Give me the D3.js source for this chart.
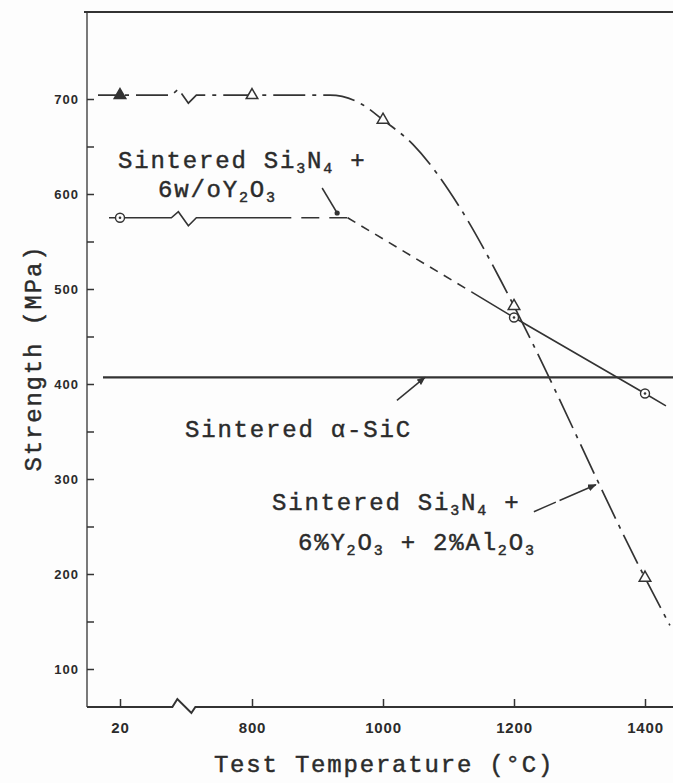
<!DOCTYPE html>
<html>
<head>
<meta charset="utf-8">
<script src="https://cdn.jsdelivr.net/npm/d3@7"></script>
<style>
  html, body { margin: 0; padding: 0; background: #fdfdfd; }
  svg { display: block; }
</style>
</head>
<body>
<svg id="chart" width="673" height="783"></svg>
<script>
// ---- data -------------------------------------------------------------
// test temperatures (°C) shown on the x axis
const temperatures = [20, 800, 1000, 1200, 1400];
// strength ticks (MPa)
const strengthTicks = [100, 200, 300, 400, 500, 600, 700];
const minorStrengthTicks = [150, 250, 350, 450, 550, 650];

// Sintered Si3N4 + 6% Y2O3 + 2% Al2O3 : measured points
const yalTemps = [20, 800, 1000, 1200, 1400];
const yalStrength = [704, 704, 678, 482, 196];
// its fitted curve beyond the plateau
const yalCurveTemps = [800, 919, 969, 1000, 1046, 1118, 1179, 1200, 1400, 1438];
const yalCurveStrength = [704, 704, 694, 678, 652, 585, 510, 482, 196, 146];

// Sintered Si3N4 + 6 w/o Y2O3 : measured points
const ytTemps = [20, 1200, 1400];
const ytStrength = [575, 470, 390];
// its trend line: plateau, extrapolated drop, measured slope
const ytLineTemps = [20, 860, 946, 1135, 1200, 1400, 1432];
const ytLineStrength = [575, 575, 575, 497, 470, 390, 377];

// Sintered alpha-SiC : constant strength
const sicStrength = 407;

// ---- layout -----------------------------------------------------------
const W = 673, H = 783;
const plotLeft = 87, plotTop = 12, plotBottom = 707, plotRight = 673;
const ink = "#333333";
const textInk = "#2b2b2b";
const mono = "'Liberation Mono', 'DejaVu Sans Mono', monospace";
const sans = "'Liberation Sans', Arial, sans-serif";

const svg = d3.select("#chart");
svg.append("rect").attr("width", W).attr("height", H).attr("fill", "#fdfdfd");

// broken temperature axis: 20 °C, then 800–1400 °C
const x = d3.scaleLinear().domain([20, 800, 1400]).range([120, 252, 645]);
const y = d3.scaleLinear().domain([100, 700]).range([669, 99]);
const breakX = x(20) + 0.48 * (x(800) - x(20));

const defs = svg.append("defs");
defs.append("marker")
  .attr("id", "head")
  .attr("viewBox", "0 0 10 8")
  .attr("refX", 9).attr("refY", 4)
  .attr("markerWidth", 9).attr("markerHeight", 7)
  .attr("markerUnits", "userSpaceOnUse")
  .attr("orient", "auto")
  .append("path").attr("d", "M0,0 L10,4 L0,8 Z").attr("fill", ink);

// ---- axes -------------------------------------------------------------
const lin = d3.line();

// top border
svg.append("path")
  .attr("d", lin([[plotLeft - 3, plotTop], [plotRight, plotTop]]))
  .attr("stroke", ink).attr("stroke-width", 2.2).attr("fill", "none");

// left axis line
svg.append("path")
  .attr("d", lin([[plotLeft, plotTop], [plotLeft, plotBottom]]))
  .attr("stroke", ink).attr("stroke-width", 1.3).attr("fill", "none");

// bottom axis line with a break mark
svg.append("path")
  .attr("d", lin([[plotLeft, plotBottom], [breakX - 11, plotBottom], [breakX - 6, plotBottom - 8],
                  [breakX + 8, plotBottom + 6], [breakX + 12, plotBottom], [plotRight, plotBottom]]))
  .attr("stroke", ink).attr("stroke-width", 2).attr("fill", "none")
  .attr("stroke-linejoin", "miter");

const yAxis = svg.append("g")
  .attr("transform", `translate(${plotLeft},0)`)
  .call(d3.axisLeft(y).tickValues(strengthTicks).tickSize(-7).tickPadding(8));
const yMinor = svg.append("g")
  .attr("transform", `translate(${plotLeft},0)`)
  .call(d3.axisLeft(y).tickValues(minorStrengthTicks).tickSize(-7).tickFormat(""));
const xAxis = svg.append("g")
  .attr("transform", `translate(0,${plotBottom})`)
  .call(d3.axisBottom(x).tickValues(temperatures).tickSize(-8).tickPadding(15).tickFormat(d3.format("d")));

[yAxis, yMinor, xAxis].forEach(g => {
  g.select(".domain").remove();
  g.selectAll(".tick line").attr("stroke", ink).attr("stroke-width", 1.5);
});
yAxis.selectAll(".tick text")
  .attr("fill", textInk).attr("font-family", sans).attr("font-weight", "bold")
  .attr("font-size", 13).attr("letter-spacing", 1);
xAxis.selectAll(".tick text")
  .attr("fill", textInk).attr("font-family", sans).attr("font-weight", "bold")
  .attr("font-size", 15).attr("letter-spacing", 0.8);

// ---- series lines -----------------------------------------------------
const zig = (yy) => [[breakX - 12, yy], [breakX - 5, yy - 6], [breakX + 5, yy + 8], [breakX + 13, yy]];

// Si3N4 + Y2O3 + Al2O3 : dash-dot plateau with break, then curved fall-off
{
  const yy = y(yalStrength[0]);
  const flat = [[x(yalTemps[0]) - 22, yy], ...zig(yy)];
  const curvePts = yalCurveTemps.map((t, i) => [x(t), y(yalCurveStrength[i])]);
  const d = lin(flat) + d3.line().curve(d3.curveMonotoneX)(curvePts).replace(/^M/, "L");
  svg.append("path").attr("d", d)
    .attr("fill", "none").attr("stroke", ink).attr("stroke-width", 1.7)
    .attr("stroke-dasharray", "32,7,4,7").attr("stroke-dashoffset", 12);
}

// Si3N4 + Y2O3 : solid plateau, dashed extrapolation, solid measured slope
{
  const pts = ytLineTemps.map((t, i) => [x(t), y(ytLineStrength[i])]);
  const yy = pts[0][1];
  const pieces = [
    { p: [[pts[0][0] - 11, yy], ...zig(yy), pts[1]], dash: null, off: 0 },
    { p: [pts[1], pts[2]], dash: "18,10", off: 18 },
    { p: [pts[2], pts[3]], dash: "9,7", off: 0 },
    { p: pts.slice(3), dash: null, off: 0 }
  ];
  pieces.forEach(pc => {
    svg.append("path").attr("d", lin(pc.p))
      .attr("fill", "none").attr("stroke", ink).attr("stroke-width", 1.6)
      .attr("stroke-dasharray", pc.dash).attr("stroke-dashoffset", pc.off);
  });
}

// alpha-SiC : constant strength
svg.append("path")
  .attr("d", lin([[x(20) - 17, y(sicStrength)], [plotRight, y(sicStrength)]]))
  .attr("fill", "none").attr("stroke", ink).attr("stroke-width", 2.1);

// ---- markers ----------------------------------------------------------
const tri = d3.symbol(d3.symbolTriangle, 58);
svg.append("g").selectAll("path")
  .data(yalTemps.map((t, i) => ({ t, v: yalStrength[i], i })))
  .join("path")
  .attr("d", tri)
  .attr("transform", d => `translate(${x(d.t)},${y(d.v)})`)
  .attr("fill", d => d.i === 0 ? ink : "#fdfdfd")
  .attr("stroke", ink).attr("stroke-width", 1.5);

const circ = svg.append("g").selectAll("g")
  .data(ytTemps.map((t, i) => ({ t, v: ytStrength[i] })))
  .join("g")
  .attr("transform", d => `translate(${x(d.t)},${y(d.v)})`);
circ.append("circle").attr("r", 4.5).attr("fill", "#fdfdfd").attr("stroke", ink).attr("stroke-width", 1.4);
circ.append("circle").attr("r", 1.3).attr("fill", ink);

// ---- annotations ------------------------------------------------------
function typeText(sel) {
  return sel.attr("font-family", mono).attr("font-size", 24)
    .attr("letter-spacing", 1.8).attr("fill", textInk)
    .attr("stroke", textInk).attr("stroke-width", 0.45);
}

function label(x0, y0, parts) {
  const t = typeText(svg.append("text").attr("x", x0).attr("y", y0));
  let shifted = false;
  parts.forEach(p => {
    const sub = typeof p !== "string";
    const s = t.append("tspan").text(sub ? p.sub : p);
    if (sub) s.attr("font-size", 15);
    if (sub && !shifted) { s.attr("dy", 5); shifted = true; }
    else if (!sub && shifted) { s.attr("dy", -5); shifted = false; }
  });
  return t;
}

label(118, 168, ["Sintered Si", { sub: "3" }, "N", { sub: "4" }, " +"]);
label(158, 197, ["6w/oY", { sub: "2" }, "O", { sub: "3" }]);
label(185, 437, ["Sintered \u03b1-SiC"]);
label(272, 510, ["Sintered Si", { sub: "3" }, "N", { sub: "4" }, " +"]);
label(298, 550, ["6%Y", { sub: "2" }, "O", { sub: "3" }, " + 2%Al", { sub: "2" }, "O", { sub: "3" }]);

// pointer to the Y2O3 plateau
{
  const tip = [x(930), y(580)];
  svg.append("path").attr("d", lin([[tip[0] - 15, tip[1] - 25], tip]))
    .attr("stroke", ink).attr("stroke-width", 1.5).attr("fill", "none");
  svg.append("circle").attr("cx", tip[0]).attr("cy", tip[1]).attr("r", 2.6).attr("fill", ink);
}
// pointer to the SiC line
{
  const tip = [x(1064), y(sicStrength)];
  svg.append("path").attr("d", lin([[tip[0] - 28, tip[1] + 23], tip]))
    .attr("stroke", ink).attr("stroke-width", 1.5).attr("fill", "none")
    .attr("marker-end", "url(#head)");
}
// pointer to the Al2O3 curve
{
  const tip = [x(1325), y(294)];
  svg.append("path").attr("d", lin([[tip[0] - 62, tip[1] + 27], tip]))
    .attr("stroke", ink).attr("stroke-width", 1.5).attr("fill", "none")
    .attr("stroke-dasharray", "24,4,40")
    .attr("marker-end", "url(#head)");
}

// ---- axis titles ------------------------------------------------------
typeText(svg.append("text"))
  .attr("transform", "translate(41,358) rotate(-90)")
  .attr("text-anchor", "middle")
  .text("Strength (MPa)");

typeText(svg.append("text"))
  .attr("x", 384).attr("y", 772)
  .attr("text-anchor", "middle")
  .text("Test Temperature (\u00b0C)");
</script>
</body>
</html>
